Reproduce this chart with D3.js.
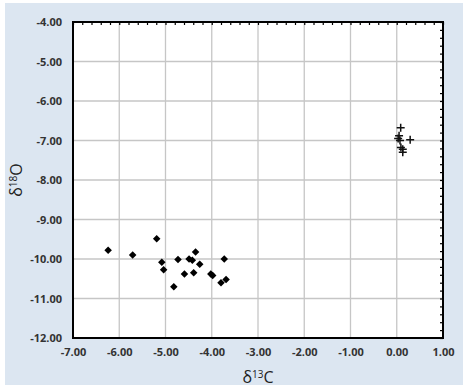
<!DOCTYPE html>
<html>
<head>
<meta charset="utf-8">
<script src="https://cdn.jsdelivr.net/npm/d3@7"></script>
<style>
  body { margin: 0; background: #fff; }
  .tick text { font: bold 11px "Open Sans", sans-serif; fill: #333; }
  .lbl { font: 16px "Open Sans", sans-serif; fill: #222; }
</style>
</head>
<body>
<div id="chart"></div>
<script>
// pontos (d13C, d18O)
var diamondX = [-6.24, -5.71, -5.19, -5.08, -5.04, -4.82, -4.73, -4.49, -4.42, -4.35, -4.26, -4.59, -4.39, -4.02, -3.98, -3.73, -3.80, -3.69];
var diamondY = [-9.78, -9.90, -9.49, -10.08, -10.27, -10.70, -10.01, -10.00, -10.03, -9.82, -10.13, -10.38, -10.35, -10.38, -10.42, -10.00, -10.60, -10.52];
var plusX = [0.085, 0.05, 0.03, 0.07, 0.29, 0.09, 0.13, 0.13];
var plusY = [-6.68, -6.88, -6.95, -7.00, -6.98, -7.18, -7.22, -7.30];
var xTicks = [-7, -6, -5, -4, -3, -2, -1, 0, 1];
var yTicks = [-4, -5, -6, -7, -8, -9, -10, -11, -12];

var W = 472, H = 391;
var margin = {top: 22, right: 29, bottom: 53, left: 73};
var larg = W - margin.left - margin.right, alt = H - margin.top - margin.bottom;
var fmt = d => d.toFixed(2);

var svg = d3.select('#chart').append('svg').attr('width', W).attr('height', H);
svg.append('rect').attr('x', 5).attr('y', 3).attr('width', 458).attr('height', 382).attr('fill', '#dce6f1');

var g = svg.append('g').attr('transform', 'translate(' + margin.left + ',' + margin.top + ')');
g.append('rect').attr('width', larg).attr('height', alt).attr('fill', '#fff');

var x = d3.scaleLinear().domain([-7, 1]).range([0, larg]);
var y = d3.scaleLinear().domain([-12, -4]).range([alt, 0]);

// grade
g.selectAll('.gx').data(xTicks).enter().append('line')
  .attr('x1', d => x(d)).attr('x2', d => x(d)).attr('y1', 0).attr('y2', alt)
  .attr('stroke', '#c6c6c6').attr('stroke-width', 1.3);
g.selectAll('.gy').data(yTicks).enter().append('line')
  .attr('y1', d => y(d)).attr('y2', d => y(d)).attr('x1', 0).attr('x2', larg)
  .attr('stroke', '#c6c6c6').attr('stroke-width', 1.3);

// eixos
var ax = g.append('g').attr('transform', 'translate(0,' + alt + ')')
  .call(d3.axisBottom(x).tickValues(xTicks).tickSize(0).tickPadding(10).tickFormat(fmt));
var ay = g.append('g')
  .call(d3.axisLeft(y).tickValues(yTicks).tickSize(0).tickPadding(11).tickFormat(fmt));
ax.select('.domain').remove();
ay.select('.domain').remove();

// eixos secundarios com marcas menores
var minorX = d3.range(-7, 1.001, 0.2), minorY = d3.range(-12, -3.999, 0.2);
g.append('g').call(d3.axisBottom(x).tickValues(minorX).tickSize(3).tickFormat(''))
  .call(s => s.select('.domain').remove()).selectAll('line').attr('stroke-width', 1.2);
g.append('g').attr('transform', 'translate(' + larg + ',0)')
  .call(d3.axisLeft(y).tickValues(minorY).tickSize(3).tickFormat(''))
  .call(s => s.select('.domain').remove()).selectAll('line').attr('stroke-width', 1.2);

g.append('rect').attr('width', larg).attr('height', alt)
  .attr('fill', 'none').attr('stroke', '#000').attr('stroke-width', 2);

// marcas
var diam = d3.range(diamondX.length).map(i => ({x: diamondX[i], y: diamondY[i]}));
var plus = d3.range(plusX.length).map(i => ({x: plusX[i], y: plusY[i]}));
g.selectAll('.dm').data(diam).enter().append('path')
  .attr('d', d3.symbol(d3.symbolDiamond2, 36))
  .attr('transform', d => 'translate(' + x(d.x) + ',' + y(d.y) + ')')
  .attr('fill', '#000');
g.selectAll('.pl').data(plus).enter().append('path')
  .attr('d', 'M-4,0H4M0,-4V4')
  .attr('transform', d => 'translate(' + x(d.x) + ',' + y(d.y) + ')')
  .attr('stroke', '#111').attr('stroke-width', 1.5).attr('fill', 'none');

// titulos
var tx = svg.append('text').attr('class', 'lbl').attr('text-anchor', 'middle')
  .attr('x', margin.left + larg / 2).attr('y', 383);
tx.append('tspan').text('δ');
tx.append('tspan').attr('dy', -5).attr('font-size', 10).text('13');
tx.append('tspan').attr('dy', 5).text('C');

var ty = svg.append('text').attr('class', 'lbl').attr('text-anchor', 'middle')
  .attr('transform', 'translate(22,' + (margin.top + alt / 2) + ') rotate(-90)');
ty.append('tspan').text('δ');
ty.append('tspan').attr('dy', -5).attr('font-size', 10).text('18');
ty.append('tspan').attr('dy', 5).text('O');
</script>
</body>
</html>
